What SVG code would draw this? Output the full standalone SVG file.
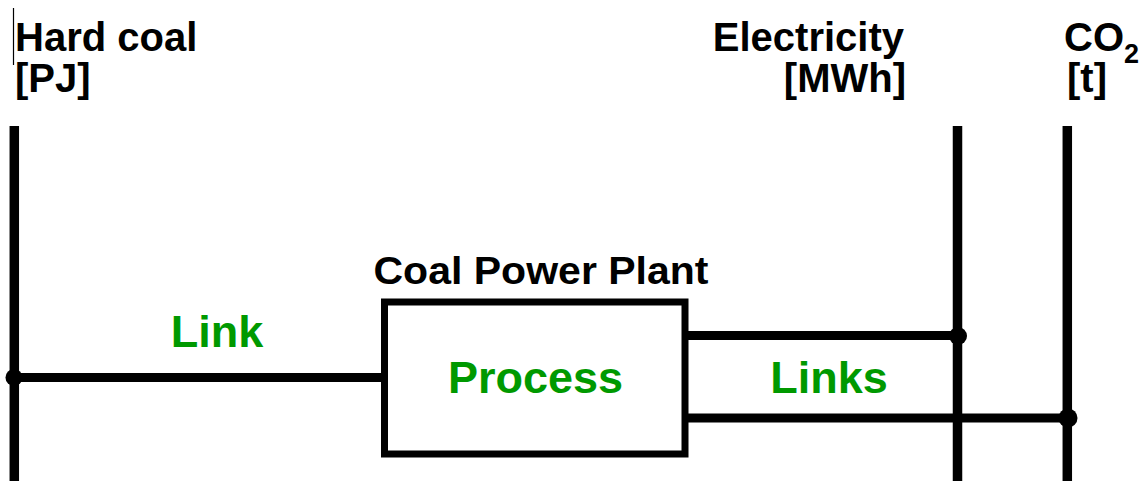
<svg xmlns="http://www.w3.org/2000/svg" width="1145" height="481" viewBox="0 0 1145 481">
  <style>
    .lbl { font-family: "Liberation Sans", Arial, sans-serif; font-weight: bold; fill: #000; }
    .grn { font-family: "Liberation Sans", Arial, sans-serif; font-weight: bold; fill: #009900; }
    .bus { stroke: #000; stroke-width: 9.5; fill: none; }
    .link { stroke: #000; stroke-width: 9; fill: none; }
    .dot { fill: #000; }
  </style>
  <rect width="1145" height="481" fill="#fff"/>
  <line x1="13.5" y1="8" x2="13.5" y2="65" stroke="#000" stroke-width="1.2"/>
  <g id="bus-hardcoal">
    <line class="bus" x1="14.3" y1="126" x2="14.3" y2="481"/>
    <text class="lbl" x="15" y="51" font-size="40">Hard coal</text>
    <text class="lbl" x="15" y="92" font-size="40">[PJ]</text>
  </g>
  <g id="bus-electricity">
    <line class="bus" x1="957.5" y1="126" x2="957.5" y2="481"/>
    <text class="lbl" x="904" y="51" font-size="40" text-anchor="end">Electricity</text>
    <text class="lbl" x="906" y="92" font-size="40" text-anchor="end">[MWh]</text>
  </g>
  <g id="bus-co2">
    <line class="bus" x1="1067.3" y1="126" x2="1067.3" y2="481"/>
    <text class="lbl" x="1064" y="51" font-size="40">CO<tspan font-size="27" dy="12">2</tspan></text>
    <text class="lbl" x="1067" y="92" font-size="40">[t]</text>
  </g>
  <g id="process">
    <rect x="384.5" y="302" width="300.5" height="152" fill="#fff" stroke="#000" stroke-width="7"/>
    <text class="lbl" x="373.5" y="284" font-size="38" textLength="335" lengthAdjust="spacingAndGlyphs">Coal Power Plant</text>
    <text class="grn" x="535.5" y="393" font-size="45" text-anchor="middle">Process</text>
  </g>
  <g id="connectors">
    <line class="link" x1="14" y1="377.5" x2="381" y2="377.5"/>
    <circle class="dot" cx="14" cy="377.5" r="8.5"/>
    <text class="grn" x="217" y="347" font-size="45" text-anchor="middle">Link</text>
    <line class="link" x1="688" y1="335.5" x2="958" y2="335.5"/>
    <circle class="dot" cx="958" cy="336" r="9"/>
    <line class="link" x1="688" y1="418" x2="1067" y2="418"/>
    <circle class="dot" cx="1068" cy="418" r="9.5"/>
    <text class="grn" x="829" y="393" font-size="45" text-anchor="middle">Links</text>
  </g>
</svg>
